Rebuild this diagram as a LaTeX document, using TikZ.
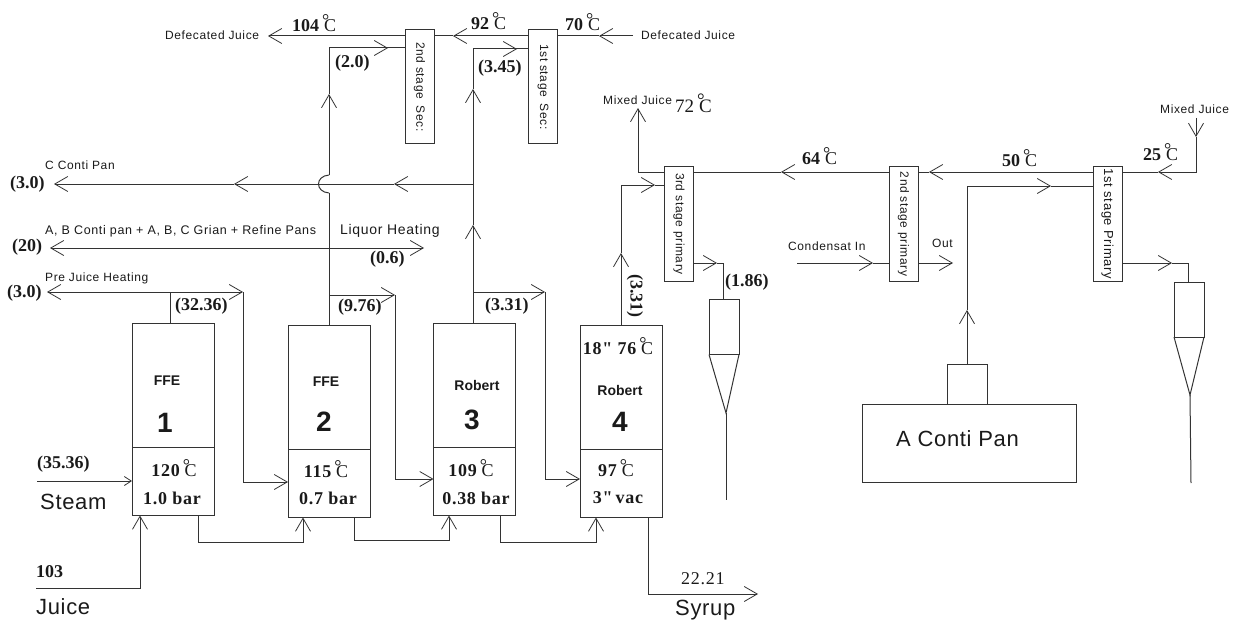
\documentclass[tikz,border=0pt]{standalone}
\usepackage{fontspec}
\setmainfont{Liberation Serif}
\setsansfont{Liberation Sans}
\newfontfamily\lblfont[LetterSpace=5]{Liberation Sans}
\newfontfamily\bigfont[LetterSpace=3]{Liberation Sans}
\newfontfamily\paramfont[LetterSpace=4]{Liberation Serif}
\usetikzlibrary{arrows.meta, calc}
\definecolor{lineDark}{HTML}{333333}
\definecolor{textDark}{HTML}{1A1A1A}
\newcommand{\degC}{\kern3pt\raisebox{0.32em}{\mdseries °}\kern-0.3em{\mdseries C}}

\begin{document}
\begin{tikzpicture}[
  x=1pt, y=-1pt,
  pipe/.style   ={draw=lineDark, line width=1pt},
  flow/.style   ={pipe, -{Straight Barb[length=13pt, width=15pt, line width=0.8pt]}},
  thin flow/.style={pipe, -{Straight Barb[length=7pt, width=9pt, line width=0.8pt]}},
  vessel/.style ={draw=lineDark, line width=1pt, inner sep=0pt, outer sep=0pt, text=textDark},
  evapTop/.style={vessel, minimum width=82pt, minimum height=124pt},
  evapLow/.style={vessel, minimum width=82pt, minimum height=68.5pt},
  stage/.style  ={vessel, minimum width=29pt, minimum height=114pt,
                  font=\lblfont\fontsize{12}{14}\selectfont},
  sepBody/.style={vessel, minimum width=30pt, minimum height=55pt},
  lbl/.style    ={anchor=west, inner sep=0pt, text=textDark, font=\lblfont\fontsize{12}{14}\selectfont},
  val/.style    ={anchor=west, inner sep=0pt, text=textDark, font=\bfseries\fontsize{18}{20}\selectfont},
  temp/.style   ={anchor=west, inner sep=0pt, text=textDark, font=\bfseries\fontsize{18}{20}\selectfont},
  param/.style  ={inner sep=0pt, text=textDark, font=\paramfont\bfseries\fontsize{18}{20}\selectfont},
  big/.style    ={anchor=west, inner sep=0pt, text=textDark, font=\bigfont\fontsize{22}{24}\selectfont},
  kind/.style   ={inner sep=0pt, text=textDark, font=\sffamily\bfseries\fontsize{14}{16}\selectfont},
  num/.style    ={inner sep=0pt, text=textDark, font=\sffamily\bfseries\fontsize{28}{30}\selectfont},
]
\useasboundingbox (0,0) rectangle (1237,623);

% ----- Evaporator bodies -----
\node[evapTop] (E1) at (173,385) {};
\node[evapLow] (E1low) at (173,481.25) {};
\node[evapTop] (E2) at (329,387) {};
\node[evapLow] (E2low) at (329,483.25) {};
\node[evapTop] (E3) at (474.5,385) {};
\node[evapLow] (E3low) at (474.5,481.25) {};
\node[evapTop] (E4) at (621,387) {};
\node[evapLow] (E4low) at (621,483.25) {};

% ----- Heaters -----
\node[stage] (S2) at (419.5,87) {\rotatebox{-90}{2nd stage\hspace{3pt} Sec:}};
\node[stage] (S1) at (543,87) {\rotatebox{-90}{1st stage\hspace{3pt} Sec:}};
\node[stage] (P3) at (679,224) {\rotatebox{-90}{3rd stage primary}};
\node[stage] (P2) at (903.5,224) {\rotatebox{-90}{2nd stage primary}};
\node[stage, font=\lblfont\fontsize{13}{14}\selectfont] (P1) at (1107.5,224) {\rotatebox{-90}{1st stage Primary}};

% ----- Separators and pan -----
\node[sepBody] (SepA) at (724,327) {};
\node[sepBody] (SepB) at (1189,309.5) {};
\node[vessel, minimum width=214pt, minimum height=78pt] (Pan) at (969,443) {};
\node[vessel, minimum width=40pt, minimum height=40pt] (Vent) at (967,384) {};

% ----- Effect 1 -----
\coordinate (steamIn) at (37,481);
\coordinate (juiceIn) at (36,588);
\coordinate (juiceUp) at (140,588);
\draw[thin flow] (steamIn) -- (steamIn -| E1low.west);
\draw[flow] (juiceIn) -- (juiceUp) -- (juiceUp |- E1low.south);
\coordinate (e1Tee) at (170,292);
\coordinate (preJuice) at (47,292);
\coordinate (e1Out) at (243,292);
\coordinate (e2In) at (243,482);
\draw[pipe] (E1.north -| e1Tee) -- (e1Tee);
\draw[flow] (e1Tee) -- (preJuice);
\draw[flow] (e1Tee) -- (e1Out);
\draw[flow] (e1Out) -- (e2In) -- (e2In -| E2low.west);

% ----- Effect 2 -----
\coordinate (e2Tee) at (329,295);
\coordinate (liqTee) at (329,248);
\coordinate (hopBot) at (329,193);
\coordinate (hopTop) at (329,175);
\coordinate (e2Up) at (329,94);
\coordinate (e2Turn) at (329,48);
\coordinate (e2Tip) at (388,48);
\coordinate (boilOut) at (50,248);
\coordinate (liqOut) at (424,248);
\coordinate (e2Out) at (395,295);
\coordinate (e3In) at (395,479);
\draw[pipe] (E2.north) -- (hopBot);
\draw[pipe] (hopBot) .. controls ($(hopBot)+(-14,-1)$) and ($(hopTop)+(-14,1)$) .. (hopTop);
\draw[flow] (hopTop) -- (e2Up);
\draw[pipe] (e2Up) -- (e2Turn) -- (e2Turn -| S2.west);
\draw[flow] (e2Turn) -- (e2Tip);
\draw[flow] (liqTee) -- (boilOut);
\draw[flow] (liqTee) -- (liqOut);
\draw[flow] (e2Tee) -- (e2Out);
\draw[flow] (e2Out) -- (e3In) -- (e3In -| E3low.west);

% ----- Effect 3 -----
\coordinate (e3Tee) at (473,292);
\coordinate (contiTee) at (473,184);
\coordinate (e3UpA) at (473,225);
\coordinate (e3UpB) at (473,89);
\coordinate (e3Turn) at (473,49);
\coordinate (e3Tip) at (517,49);
\coordinate (e3Out) at (545,292);
\coordinate (e4In) at (545,479);
\coordinate (contiA) at (394,184);
\coordinate (contiB) at (234,184);
\coordinate (contiC) at (54,184);
\draw[pipe] (E3.north -| e3Tee) -- (e3Tee);
\draw[flow] (e3Tee) -- (e3UpA);
\draw[flow] (e3UpA) -- (e3UpB);
\draw[pipe] (e3UpB) -- (e3Turn) -- (e3Turn -| S1.west);
\draw[flow] (e3Turn) -- (e3Tip);
\draw[flow] (contiTee) -- (contiA);
\draw[flow] (contiA) -- (contiB);
\draw[flow] (contiB) -- (contiC);
\draw[flow] (e3Tee) -- (e3Out);
\draw[flow] (e3Out) -- (e4In) -- (e4In -| E4low.west);

% ----- Effect 4 and syrup -----
\coordinate (e4Up) at (621,253);
\coordinate (e4Turn) at (621,185);
\coordinate (e4Tip) at (655,185);
\draw[flow] (E4.north) -- (e4Up);
\draw[flow] (e4Up) -- (e4Turn) -- (e4Tip);
\draw[pipe] (e4Tip) -- (e4Tip -| P3.west);
\coordinate (syrupTurn) at (648,594);
\coordinate (syrupOut) at (758,594);
\draw[flow] (syrupTurn |- E4low.south) -- (syrupTurn) -- (syrupOut);

% ----- Liquor carried between bodies -----
\coordinate (b12a) at (198,542);
\coordinate (b12b) at (303,542);
\coordinate (b23a) at (354,540);
\coordinate (b23b) at (449,540);
\coordinate (b34a) at (500,542);
\coordinate (b34b) at (596,542);
\draw[flow] (b12a |- E1low.south) -- (b12a) -- (b12b) -- (b12b |- E2low.south);
\draw[flow] (b23a |- E2low.south) -- (b23a) -- (b23b) -- (b23b |- E3low.south);
\draw[flow] (b34a |- E3low.south) -- (b34a) -- (b34b) -- (b34b |- E4low.south);

% ----- Defecated juice line -----
\coordinate (djIn) at (633,36);
\coordinate (djA) at (599,36);
\coordinate (djB) at (453,36);
\coordinate (djOut) at (268,36);
\draw[flow] (djIn) -- (djA);
\draw[pipe] (djA) -- (djA -| S1.east);
\draw[flow] (djA -| S1.west) -- (djB);
\draw[pipe] (djB) -- (djB -| S2.east);
\draw[flow] (djB -| S2.west) -- (djOut);

% ----- Mixed juice line -----
\coordinate (mjIn) at (1196,118);
\coordinate (mjDown) at (1196,137);
\coordinate (mjTurn) at (1196,172);
\coordinate (mjA) at (1158,172);
\coordinate (mjB) at (929,172);
\coordinate (mjC) at (781,172);
\coordinate (mjTee) at (638,172);
\coordinate (mjOut) at (638,108);
\draw[flow] (mjIn) -- (mjDown);
\draw[flow] (mjDown) -- (mjTurn) -- (mjA);
\draw[pipe] (mjA) -- (mjA -| P1.east);
\draw[flow] (mjA -| P1.west) -- (mjB);
\draw[pipe] (mjB) -- (mjB -| P2.east);
\draw[flow] (mjB -| P2.west) -- (mjC);
\draw[pipe] (mjC) -- (mjC -| P3.east);
\draw[flow] (mjC -| P3.west) -- (mjTee) -- (mjOut);

% ----- Pan vapour, condensate -----
\coordinate (panUp) at (967,310);
\coordinate (panTurn) at (967,186);
\coordinate (panTip) at (1051,186);
\draw[flow] (Vent.north) -- (panUp);
\draw[flow] (panUp) -- (panTurn) -- (panTip);
\draw[pipe] (panTip) -- (panTip -| P1.west);
\coordinate (condIn) at (797,263);
\coordinate (condTip) at (873,263);
\coordinate (condOut) at (953,263);
\draw[flow] (condIn) -- (condTip);
\draw[pipe] (condTip) -- (condTip -| P2.west);
\draw[flow] (condTip -| P2.east) -- (condOut);

% ----- Separator feeds and legs -----
\coordinate (p3Tip) at (717,263);
\coordinate (p3Turn) at (723,263);
\draw[flow] (p3Tip -| P3.east) -- (p3Tip);
\draw[pipe] (p3Tip) -- (p3Turn) -- (p3Turn |- SepA.north);
\coordinate (p1Tip) at (1172,263);
\coordinate (p1Turn) at (1188,263);
\draw[flow] (p1Tip -| P1.east) -- (p1Tip);
\draw[pipe] (p1Tip) -- (p1Turn) -- (p1Turn |- SepB.north);
\coordinate (apexA) at (726,413);
\coordinate (legA) at (726,500);
\draw[pipe] (SepA.south west) -- (apexA) -- (SepA.south east);
\draw[pipe] (apexA) -- (legA);
\coordinate (apexB) at (1190,395);
\coordinate (legB) at (1191,483);
\draw[pipe] (SepB.south west) -- (apexB) -- (SepB.south east);
\draw[pipe] (apexB) -- (legB);

% ----- Small stream labels -----
\node[lbl] (tDefL) at (165,35) {Defecated Juice};
\node[lbl] (tDefR) at (641,35) {Defecated Juice};
\node[lbl] (tMixL) at (603,100) {Mixed Juice};
\node[lbl] (tMixR) at (1160,109) {Mixed Juice};
\node[lbl] (tCond) at (788,246) {Condensat In};
\node[lbl] (tOut) at (932,243) {Out};
\node[lbl] (tCPan) at (45,165) {C Conti Pan};
\node[lbl, font=\lblfont\fontsize{12.5}{14}\selectfont] (tABPan) at (45,231) {A, B Conti pan + A, B, C Grian + Refine Pans};
\node[lbl] (tPre) at (45,278) {Pre Juice Heating};
\node[lbl, font=\lblfont\fontsize{14}{16}\selectfont] (tLiq) at (340,231) {Liquor Heating};

% ----- Flows -----
\node[val] (f20) at (335,63) {(2.0)};
\node[val] (f345) at (478,68) {(3.45)};
\node[val] (fC) at (10,184) {(3.0)};
\node[val] (fAB) at (12,247) {(20)};
\node[val] (fLiq) at (370,259) {(0.6)};
\node[val] (fPre) at (7,293) {(3.0)};
\node[val] (f3236) at (175,306) {(32.36)};
\node[val] (f976) at (338,307) {(9.76)};
\node[val] (f331) at (485,306) {(3.31)};
\node[val] (f186) at (725,282) {(1.86)};
\node[val, anchor=center, rotate=-90] (f331v) at (635,296) {(3.31)};
\node[val] (f3536) at (37,464) {(35.36)};
\node[val] (f103) at (36,572) {103};
\node[val, font=\paramfont\fontsize{18}{20}\selectfont] (f2221) at (681,579) {22.21};

% ----- Temperatures -----
\node[temp] (t104) at (292,23) {104\degC};
\node[temp] (t92) at (471,21) {92\degC};
\node[temp] (t70) at (565,22) {70\degC};
\node[temp, font=\fontsize{19}{20}\selectfont] (t72) at (675,103) {72\degC};
\node[temp] (t64) at (802,156) {64\degC};
\node[temp] (t50) at (1002,158) {50\degC};
\node[temp] (t25) at (1143,152) {25\degC};

% ----- Big labels -----
\node[big] (tSteam) at (40,502) {Steam};
\node[big] (tJuice) at (36,607) {Juice};
\node[big] (tSyrup) at (675,610) {Syrup};
\node[big] (tPan) at (896,439) {A Conti Pan};

% ----- Text inside the bodies -----
\node[kind] (k1) at (167,381) {FFE};
\node[num] (n1) at (165,423) {1};
\node[param] (p1a) at (174,468) {120\degC};
\node[param] (p1b) at (172,498) {1.0 bar};
\node[kind] (k2) at (326,382) {FFE};
\node[num] (n2) at (324,422) {2};
\node[param] (p2a) at (326,469) {115\degC};
\node[param] (p2b) at (328,498) {0.7 bar};
\node[kind] (k3) at (477,385) {Robert};
\node[num] (n3) at (472,420) {3};
\node[param] (p3a) at (471,468) {109\degC};
\node[param] (p3b) at (476,498) {0.38 bar};
\node[param] (p4t) at (618,346) {18" 76\degC};
\node[kind] (k4) at (620,390) {Robert};
\node[num] (n4) at (620,422) {4};
\node[param] (p4a) at (616,468) {97\degC};
\node[param] (p4b) at (618,498) {3"\,vac};

\end{tikzpicture}
\end{document}
